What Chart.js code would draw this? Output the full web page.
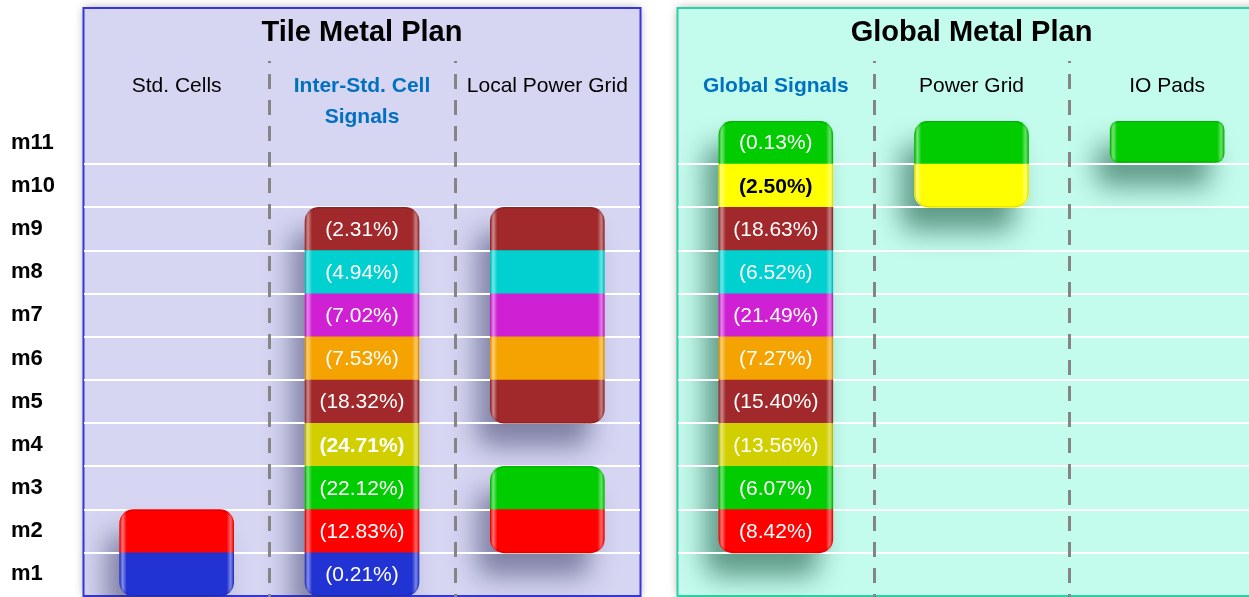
<!DOCTYPE html>
<html><head><meta charset="utf-8">
<script src="https://cdn.jsdelivr.net/npm/chart.js@4.4.1/dist/chart.umd.min.js"></script>
<style>
html,body{margin:0;padding:0;background:#fff;overflow:hidden;width:1249px;height:597px;position:relative;}
#tileBox{position:absolute;left:0;top:0;width:652px;height:597px;}
#globalBox{position:absolute;left:655px;top:0;width:620px;height:597px;}
</style></head><body>
<div id="tileBox"><canvas id="tile"></canvas></div>
<div id="globalBox"><canvas id="global"></canvas></div>
<script>
// ---- data ----
const metalLayers = ['m1','m2','m3','m4','m5','m6','m7','m8','m9','m10','m11'];
const layerColors = ['#2233d4','#ff0000','#00cc00','#d2cf00','#a1282b','#f5a300','#d020d4','#00d0d0','#a1282b','#ffff00','#00cc00'];
const darkTextLayers = ['m10'];
const tileTitle = 'Tile Metal Plan';
const globalTitle = 'Global Metal Plan';
const tileColumns = ['Std. Cells', ['Inter-Std. Cell', 'Signals'], 'Local Power Grid'];
const globalColumns = ['Global Signals', 'Power Grid', 'IO Pads'];
const accentHeaders = ['Inter-Std. Cell Signals', 'Global Signals'];
const stdCellsLayers = ['m1','m2'];
const interStdCellLayers = ['m1','m2','m3','m4','m5','m6','m7','m8','m9'];
const localPowerGridLayers = ['m2','m3','m5','m6','m7','m8','m9'];
const globalSignalsLayers = ['m2','m3','m4','m5','m6','m7','m8','m9','m10','m11'];
const powerGridLayers = ['m10','m11'];
const ioPadsLayers = ['m11'];
const ioPadsRowFill = 0.96;
const interStdCellShare = [0.21, 12.83, 22.12, 24.71, 18.32, 7.53, 7.02, 4.94, 2.31];      // m1..m9
const globalSignalsShare = [8.42, 6.07, 13.56, 15.40, 7.27, 21.49, 6.52, 18.63, 2.50, 0.13]; // m2..m11
const interStdCellBold = 'm4';
const globalSignalsBold = 'm10';

const FONT = 'Liberation Sans, Arial, sans-serif';

function buildDatasets(columnLayers, columnFill) {
  return metalLayers.map((layer, li) => ({
    label: layer,
    data: columnLayers.map((layers, ci) => layers.includes(layer) ? [li + 1 - columnFill[ci], li + 1] : null),
    backgroundColor: layerColors[li],
    borderWidth: 0,
    borderSkipped: false,
    grouped: false,
    barThickness: 114,
    borderRadius: (ctx) => {
      const v = ctx.raw;
      if (!v) return 0;
      const i = ctx.dataIndex;
      const all = ctx.chart.data.datasets;
      const above = all.some(d => d.data[i] && Math.abs(d.data[i][0] - v[1]) < 1e-6);
      const below = all.some(d => d.data[i] && Math.abs(d.data[i][1] - v[0]) < 1e-6);
      const r = (v[1] - v[0]) < 1 ? 9 : 14;
      return {topLeft: above ? 0 : r, topRight: above ? 0 : r, bottomLeft: below ? 0 : r, bottomRight: below ? 0 : r};
    }
  })).filter(ds => ds.data.some(v => v));
}

function pathRR(ctx, x, y, w, h, rt, rb) {
  ctx.beginPath();
  ctx.moveTo(x + rt, y);
  ctx.lineTo(x + w - rt, y);
  if (rt) ctx.arcTo(x + w, y, x + w, y + rt, rt);
  ctx.lineTo(x + w, y + h - rb);
  if (rb) ctx.arcTo(x + w, y + h, x + w - rb, y + h, rb);
  ctx.lineTo(x + rb, y + h);
  if (rb) ctx.arcTo(x, y + h, x, y + h - rb, rb);
  ctx.lineTo(x, y + rt);
  if (rt) ctx.arcTo(x, y, x + rt, y, rt);
  ctx.closePath();
}

function getStacks(chart) {
  const out = [];
  const n = chart.data.labels.length;
  for (let i = 0; i < n; i++) {
    const segs = [];
    chart.data.datasets.forEach((ds, d) => {
      if (!ds.data[i]) return;
      const el = chart.getDatasetMeta(d).data[i];
      if (!el) return;
      const p = el.getProps(['x', 'y', 'base', 'width'], true);
      const br = el.options.borderRadius || {};
      segs.push({l: p.x - p.width / 2, r: p.x + p.width / 2, t: Math.min(p.y, p.base), b: Math.max(p.y, p.base),
        rt: br.topLeft || 0, rb: br.bottomLeft || 0});
    });
    segs.sort((a, b) => a.t - b.t);
    let cur = null;
    segs.forEach(s => {
      if (cur && s.t - cur.b < 1.5) { cur.b = s.b; cur.rb = s.rb; }
      else { cur = Object.assign({}, s); out.push(cur); }
    });
  }
  return out;
}

function makePlugin(cfg) {
  return {
    id: 'metalPlan',
    beforeDraw(chart) {
      const ctx = chart.ctx, a = chart.chartArea;
      ctx.save();
      ctx.shadowColor = 'rgba(0,0,0,0.35)';
      ctx.shadowBlur = 9;
      ctx.fillStyle = cfg.panelFill;
      ctx.fillRect(a.left, 8, a.right - a.left, 588);
      ctx.restore();
      ctx.save();
      ctx.strokeStyle = cfg.panelBorder;
      ctx.lineWidth = 2;
      ctx.strokeRect(a.left - 0.5, 8, a.right - a.left + 1, 588);
      ctx.restore();
      getStacks(chart).forEach(s => {
        ctx.save();
        ctx.shadowColor = cfg.shadow;
        ctx.shadowBlur = 26;
        ctx.shadowOffsetX = -14 + 5000;
        ctx.shadowOffsetY = 24;
        ctx.fillStyle = '#000';
        pathRR(ctx, s.l - 5000, s.t, s.r - s.l, s.b - s.t, s.rt, s.rb);
        ctx.fill();
        ctx.restore();
      });
    },
    beforeDatasetsDraw(chart) {
      const ctx = chart.ctx, x = chart.scales.x;
      const n = chart.data.labels.length;
      ctx.save();
      ctx.strokeStyle = '#858585';
      ctx.lineWidth = 3;
      ctx.setLineDash([15, 11]);
      ctx.lineDashOffset = 13;
      for (let i = 0; i < n - 1; i++) {
        const px = Math.round((x.getPixelForValue(i) + x.getPixelForValue(i + 1)) / 2) + 0.5;
        ctx.beginPath();
        ctx.moveTo(px, 61);
        ctx.lineTo(px, chart.height);
        ctx.stroke();
      }
      ctx.restore();
    },
    afterDatasetsDraw(chart) {
      const ctx = chart.ctx;
      getStacks(chart).forEach(s => {
        const w = s.r - s.l;
        ctx.save();
        pathRR(ctx, s.l, s.t, w, s.b - s.t, s.rt, s.rb);
        ctx.clip();
        const g = ctx.createLinearGradient(s.l, 0, s.r, 0);
        g.addColorStop(0, 'rgba(255,255,255,0.05)');
        g.addColorStop(3 / w, 'rgba(255,255,255,0.45)');
        g.addColorStop(7 / w, 'rgba(255,255,255,0)');
        g.addColorStop(1 - 7 / w, 'rgba(255,255,255,0)');
        g.addColorStop(1 - 3 / w, 'rgba(255,255,255,0.4)');
        g.addColorStop(1, 'rgba(255,255,255,0.05)');
        ctx.fillStyle = g;
        ctx.fillRect(s.l, s.t, w, s.b - s.t);
        ctx.restore();
        ctx.save();
        pathRR(ctx, s.l + 0.5, s.t + 0.5, w - 1, s.b - s.t - 1, s.rt, s.rb);
        ctx.strokeStyle = 'rgba(0,0,0,0.15)';
        ctx.lineWidth = 1;
        ctx.stroke();
        ctx.restore();
      });
      ctx.save();
      ctx.textAlign = 'center';
      ctx.textBaseline = 'middle';
      chart.data.datasets.forEach((ds, d) => {
        const layer = ds.label;
        chart.getDatasetMeta(d).data.forEach((el, i) => {
          const info = cfg.shares[i];
          if (!info || !ds.data[i]) return;
          const k = info.layers.indexOf(layer);
          if (k < 0) return;
          const p = el.getProps(['x', 'y', 'base'], true);
          ctx.font = (layer === info.bold ? 'bold ' : '') + '21px ' + FONT;
          ctx.fillStyle = darkTextLayers.includes(layer) ? '#000' : '#fff';
          ctx.fillText('(' + info.values[k].toFixed(2) + '%)', p.x, (p.y + p.base) / 2 + 1);
        });
      });
      ctx.restore();
    }
  };
}

function headerText(c) {
  const l = c.chart.data.labels[c.index];
  return Array.isArray(l) ? l.join(' ') : l;
}

function makeChart(canvasId, cfg) {
  return new Chart(document.getElementById(canvasId), {
    type: 'bar',
    data: {labels: cfg.columns, datasets: buildDatasets(cfg.columnLayers, cfg.columnFill)},
    plugins: [makePlugin(cfg)],
    options: {
      responsive: true,
      maintainAspectRatio: false,
      animation: false,
      devicePixelRatio: 1,
      events: [],
      layout: {padding: cfg.padding},
      plugins: {
        legend: {display: false},
        tooltip: {enabled: false},
        title: {display: true, text: cfg.title, fullSize: false, color: '#000',
          font: {family: FONT, size: 29, weight: 'bold', lineHeight: 1.2}, padding: {top: 16, bottom: 0}}
      },
      scales: {
        x: {
          type: 'category', position: 'top',
          grid: {display: false, drawTicks: false}, border: {display: false},
          ticks: {
            autoSkip: false, maxRotation: 0, minRotation: 0, crossAlign: 'far', padding: cfg.headerPadding,
            color: (c) => accentHeaders.includes(headerText(c)) ? '#0070c0' : '#000',
            font: (c) => ({family: FONT, size: 21, lineHeight: 31 / 21,
              weight: accentHeaders.includes(headerText(c)) ? 'bold' : 'normal'})
          },
          afterFit(s) {
            s.height = 121 - 16 - 34.8;
            // headers may reach into the first row, as in the original slide
            s._computeLabelArea = () => undefined;
          }
        },
        y: {type: 'linear', display: false, min: 0, max: 11},
        rows: {
          type: 'category', position: 'left', offset: true,
          labels: metalLayers.slice().reverse(),
          grid: {offset: true, drawTicks: false, lineWidth: 2,
            color: (c) => (c.index === 0 || c.index === undefined || c.index >= metalLayers.length) ? 'rgba(0,0,0,0)' : '#ffffff'},
          border: {display: false},
          ticks: {display: cfg.showRows, crossAlign: 'far', padding: 0, color: '#000',
            font: {family: FONT, size: 22, weight: 'bold'}},
          afterFit(s) { s.width = cfg.rowsWidth; s.paddingTop = 0; s.paddingBottom = 0; }
        }
      }
    }
  });
}

makeChart('tile', {
  title: tileTitle,
  columns: tileColumns,
  columnLayers: [stdCellsLayers, interStdCellLayers, localPowerGridLayers],
  columnFill: [1, 1, 1],
  shares: [null, {layers: interStdCellLayers, values: interStdCellShare, bold: interStdCellBold}, null],
  panelFill: '#d6d6f3', panelBorder: '#3636dc', shadow: 'rgba(45,45,90,0.5)',
  padding: {left: 11, right: 12, top: 0, bottom: 1},
  headerPadding: -11.5,
  showRows: true, rowsWidth: 73
});

makeChart('global', {
  title: globalTitle,
  columns: globalColumns,
  columnLayers: [globalSignalsLayers, powerGridLayers, ioPadsLayers],
  columnFill: [1, 1, ioPadsRowFill],
  shares: [{layers: globalSignalsLayers, values: globalSignalsShare, bold: globalSignalsBold}, null, null],
  panelFill: '#c3fbec', panelBorder: '#2fd0a6', shadow: 'rgba(15,75,55,0.55)',
  padding: {left: 23, right: 10, top: 0, bottom: 1},
  headerPadding: 19.5,
  showRows: false, rowsWidth: 0
});
</script>
</body></html>
